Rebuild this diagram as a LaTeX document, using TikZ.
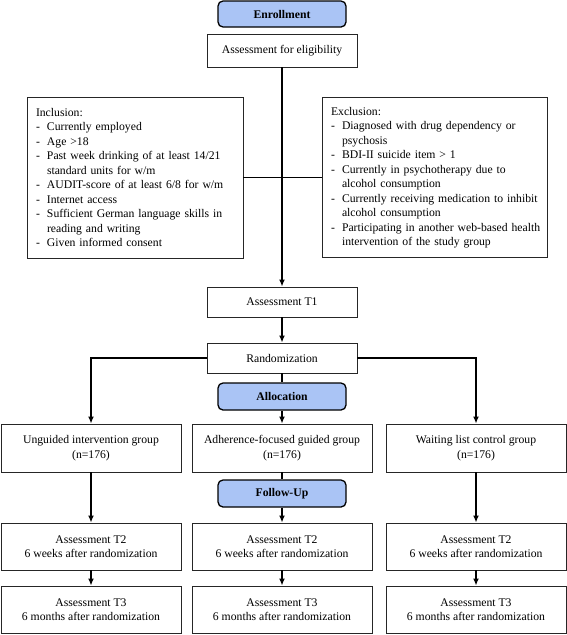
\documentclass[tikz,border=0pt]{standalone}
\usepackage{fontspec}
\setmainfont{Liberation Serif}
\usetikzlibrary{positioning,arrows.meta}
\definecolor{stageblue}{RGB}{170,196,245}
\setlength{\parindent}{0pt}
\newcommand{\critline}[1]{\par\makebox[11pt][l]{-}\mbox{#1}}
\newcommand{\critcont}[1]{\par\hspace*{11pt}\mbox{#1}}

\begin{document}
\begin{tikzpicture}[x=1pt,y=-1pt,
	every node/.style={font=\fontsize{11.7}{14.5}\selectfont},
	plainbox/.style={draw=black!85, line width=0.9pt, fill=white, align=center, inner sep=0pt},
	stagebox/.style={draw=black, line width=1.3pt, rounded corners=5pt, fill=stageblue, minimum width=128pt, inner sep=0pt, font=\fontsize{11.7}{14.5}\selectfont\bfseries},
	critbox/.style={draw=black!85, line width=0.9pt, text width=#1, inner xsep=9pt, align=left},
	flow/.style={line width=1.6pt, -{Latex[length=7pt,width=6pt]}},
	link/.style={line width=1.6pt}
	]
	\useasboundingbox (0,0) rectangle (567,635);
	% enrollment
	\node[stagebox, minimum height=26pt] (enrol) at (282,14) {Enrollment};
	\node[plainbox, minimum width=150pt, minimum height=33pt] (elig) at (282,50.5) {Assessment for eligibility};
	\node[critbox=198pt, minimum height=161pt] (incl) at (135,177.5) {Inclusion:
		\critline{Currently employed}
		\critline{Age >18}
		\critline{Past week drinking of at least 14/21}
		\critcont{standard units for w/m}
		\critline{AUDIT-score of at least 6/8 for w/m}
		\critline{Internet access}
		\critline{Sufficient German language skills in}
		\critcont{reading and writing}
		\critline{Given informed consent}};
	\node[critbox=207pt, minimum height=160pt] (excl) at (434.5,177.5) {Exclusion:
		\critline{Diagnosed with drug dependency or}
		\critcont{psychosis}
		\critline{BDI-II suicide item > 1}
		\critline{Currently in psychotherapy due to}
		\critcont{alcohol consumption}
		\critline{Currently receiving medication to inhibit}
		\critcont{alcohol consumption}
		\critline{Participating in another web-based health}
		\critcont{intervention of the study group}};
	\node[plainbox, minimum width=150pt, minimum height=30pt] (tone) at (282,302) {Assessment T1};
	\node[plainbox, minimum width=150pt, minimum height=30pt] (rand) at (282,358) {Randomization};
	% allocation and follow-up
	\node[stagebox, minimum height=27pt] (alloc) at (282,396.5) {Allocation};
	\node[stagebox, minimum height=27pt] (follow) at (282,493.5) {Follow-Up};
	\foreach \cx/\nm/\grp in {91/ung/Unguided intervention group, 282/adh/Adherence-focused guided group, 476/wait/Waiting list control group}{
		\node[plainbox, minimum width=180pt, minimum height=48pt] (\nm) at (\cx,448) {\grp\\(n=176)};
		\node[plainbox, minimum width=180pt, minimum height=47pt] (\nm-two) at (\cx,546.5) {Assessment T2\\6 weeks after randomization};
		\node[plainbox, minimum width=180pt, minimum height=47pt] (\nm-three) at (\cx,609.5) {Assessment T3\\6 months after randomization};
		\draw[flow] (\nm-two) -- (\nm-three);
	}
	% connectors
	\draw[flow] (elig) -- (tone);
	\draw[link] (incl) -- (excl);
	\draw[flow] (tone) -- (rand);
	\draw[flow] (rand) -| (ung);
	\draw[flow] (rand) -| (wait);
	\draw[link] (rand) -- (alloc);
	\draw[flow] (alloc) -- (adh);
	\draw[link] (adh) -- (follow);
	\draw[flow] (follow) -- (adh-two);
	\draw[flow] (ung) -- (ung-two);
	\draw[flow] (wait) -- (wait-two);
\end{tikzpicture}
\end{document}
